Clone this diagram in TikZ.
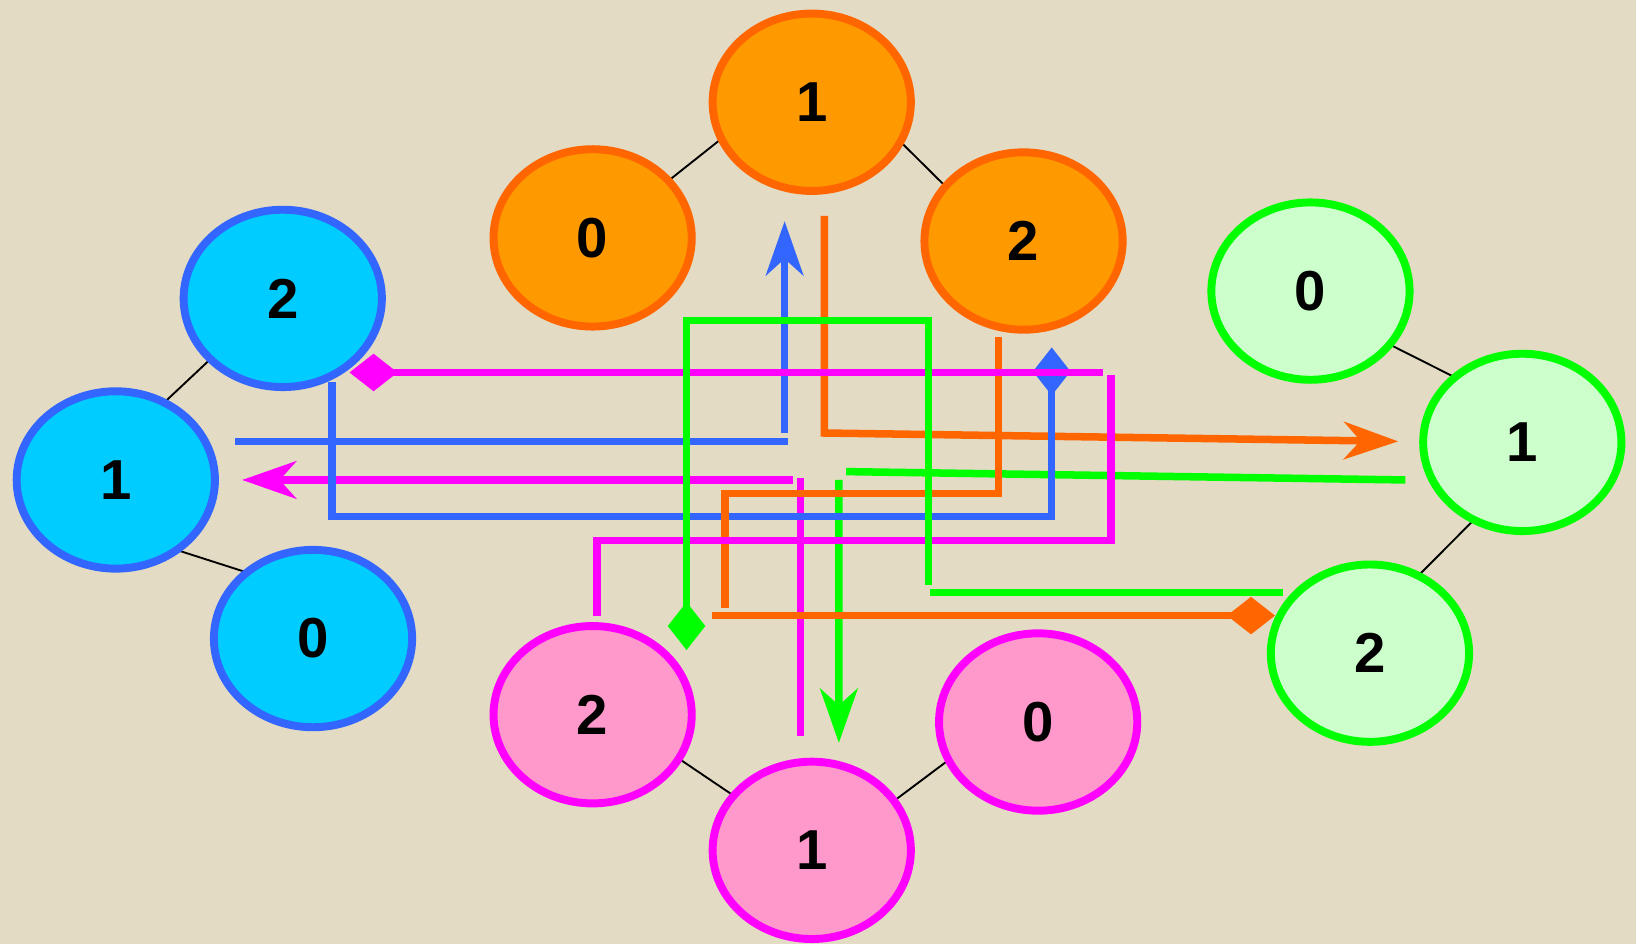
\documentclass[tikz,border=0pt]{standalone}
\usepackage{fontspec}
\setmainfont{Liberation Sans}
\usetikzlibrary{shapes.geometric,arrows.meta,calc}
\pgfdeclarelayer{back}
\pgfdeclarelayer{edges}
\pgfsetlayers{back,edges,main}
\definecolor{paper}{HTML}{E3DBC3}
\definecolor{ofill}{HTML}{FF9900}
\definecolor{oline}{HTML}{FF6600}
\definecolor{bfill}{HTML}{00CCFF}
\definecolor{bline}{HTML}{3366FF}
\definecolor{gfill}{HTML}{CCFFCC}
\definecolor{gline}{HTML}{00FF00}
\definecolor{pfill}{HTML}{FF99CC}
\definecolor{pline}{HTML}{FF00FF}
\tikzset{
  vert/.style={ellipse, draw=#1line, fill=#1fill, line width=3.8pt,
    minimum width=95pt, minimum height=85pt, inner sep=0pt, outer sep=0pt,
    font=\fontsize{27}{31}\selectfont\bfseries},
  link/.style={black, line width=0.9pt},
  conn/.style={#1, line width=3.6pt},
  arr/.style={-{Stealth[length=26pt,width=18pt,inset=8pt]}},
  dia/.style={-{Diamond[length=23pt,width=18pt]}},
}
\begin{document}
\begin{tikzpicture}[x=0.5pt,y=-0.5pt]
\begin{pgfonlayer}{back}
\fill[paper] (0,0) rectangle (1568,905);
\end{pgfonlayer}
\useasboundingbox (0,0) rectangle (1568,905);
% nodes
\node[vert=o] (o1) at (778,98) {1};
\node[vert=o] (o0) at (568,228) {0};
\node[vert=o] (o2) at (981,231) {2};
\node[vert=b] (b2) at (271,286) {2};
\node[vert=b] (b1) at (111,460) {1};
\node[vert=b] (b0) at (300,612) {0};
\node[vert=g] (g0) at (1256,279) {0};
\node[vert=g] (g1) at (1459,424) {1};
\node[vert=g] (g2) at (1313,626) {2};
\node[vert=p] (p2) at (568,685) {2};
\node[vert=p] (p1) at (778,815) {1};
\node[vert=p] (p0) at (995,692) {0};
% thin links
\begin{pgfonlayer}{edges}
\draw[link] (o0.37) -- (o1.202);
\draw[link] (o1.336) -- (o2.145);
\draw[link] (b2.220) -- (b1.58);
\draw[link] (b1.311) -- (b0.135);
\draw[link] (g0.326) -- (g1.136);
\draw[link] (g1.238) -- (g2.58);
\draw[link] (p2.333) -- (p1.145);
\draw[link] (p1.31) -- (p0.203);
\end{pgfonlayer}
% blue: b1 -> o1
\draw[conn=bline, arr] ($(b1.east)+(19,-37)$) -- ($(o1.south)+(-23,240)$)
  ($(o1.south)+(-26,232)$) -- ($(o1.south)+(-26,29)$);
% pink: p1 -> b1
\draw[conn=pline, arr] ($(p1.north)+(-11,-25)$) -- ($(p1.north)+(-11,-272)$)
  ($(p1.north)+(-18,-270)$) -- ($(b1.east)+(26,0)$);
% green: g1 -> p1
\draw[conn=gline, arr] ($(g1.west)+(-17,36)$) -- ($(p1.north)+(33,-278)$)
  ($(p1.north)+(26,-270)$) -- ($(p1.north)+(26,-18)$);
% orange: o1 -> g1
\draw[conn=oline, arr] ($(o1.south)+(12,24)$) -- ($(o1.south)+(12,232)$) -- ($(g1.west)+(-24,-1)$);
% blue: b2 -> o2 (diamond)
\draw[conn=bline, dia] ($(b2.south)+(47,-5)$) |- ($(o2.south)+(27,179)$) -- ($(o2.south)+(27,17)$);
% orange: o2 -> g2 (diamond)
\draw[conn=oline, dia] ($(o2.south)+(-24,7)$) -- ($(o2.south)+(-24,157)$) -| ($(g2.west)+(-523,-43)$)
  ($(g2.west)+(-536,-36)$) -- ($(g2.west)+(4,-36)$);
% pink: p2 -> b2 (diamond)
\draw[conn=pline, dia] ($(p2.north)+(4,-10)$) |- ($(p2.north)+(497,-82)$) -- ($(p2.north)+(497,-241)$)
  ($(p2.north)+(489,-243)$) -- ($(b2.south)+(64,-14)$);
% green: g2 -> p2 (diamond)
\draw[conn=gline, dia] ($(g2.west)+(12,-58)$) -- ($(g2.west)+(-327,-58)$)
  ($(g2.west)+(-328,-65)$) -- ($(p2.north)+(322,-293)$) -| ($(p2.north)+(90,23)$);
\end{tikzpicture}
\end{document}
